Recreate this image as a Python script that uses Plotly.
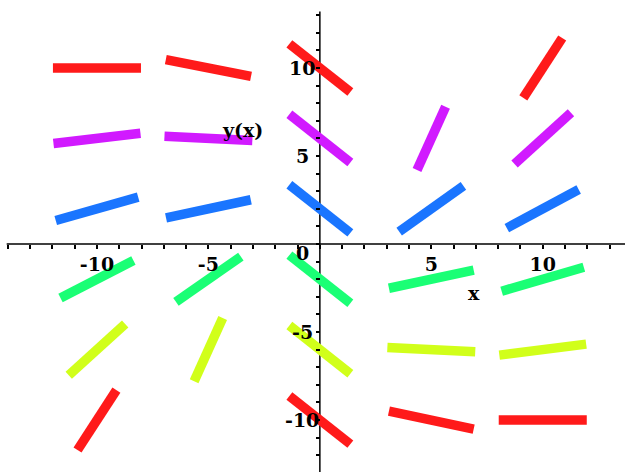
import math
import plotly.graph_objects as go

# ---- data ----
x_grid = [-10, -5, 0, 5, 10]
y_grid = [10, 6, 2, -2, -6, -10]
# slope dy/dx of the direction-field segment at (x_grid[j], y_grid[i]); None = no segment
slopes = [
    [0.0, -0.25, -1.0, None, 1.95],
    [0.15, -0.06, -1.0, 2.8, 1.15],
    [0.36, 0.27, -1.0, 0.9, 0.68],
    [0.65, 0.88, -1.0, 0.27, 0.37],
    [1.15, 2.8, -1.0, -0.06, 0.16],
    [1.95, None, -1.0, -0.27, 0.0],
]
row_colors = ["#ff1a1a", "#d11aff", "#1a75ff", "#1aff75", "#d1ff1a", "#ff1a1a"]
x_tick_values = list(range(-14, 14))
x_tick_labeled = [-10, -5, 5, 10]
y_tick_values = list(range(-12, 14))
y_tick_labeled = [-10, -5, 0, 5, 10]

# ---- view / styling ----
XR = [-14.35, 13.69]
YR = [-12.95, 13.86]
X_AXIS_START = -14.05
Y_AXIS_TOP = 13.2
NORM_X, NORM_Y = 25.0, 24.0   # arrow normalisation extents
HALF = 0.079                  # half-length in normalised units
FONT = dict(family="DejaVu Serif", size=19, color="black", weight="bold")

fig = go.Figure()
for i, yv in enumerate(y_grid):
    xs, ys = [], []
    for j, xv in enumerate(x_grid):
        f = slopes[i][j]
        if f is None:
            continue
        u, v = 1.0 / NORM_X, f / NORM_Y
        n = math.hypot(u, v)
        dx = HALF * NORM_X * u / n
        dy = HALF * NORM_Y * v / n
        xs += [xv - dx, xv + dx, None]
        ys += [yv - dy, yv + dy, None]
    fig.add_trace(go.Scatter(x=xs, y=ys, mode="lines",
                             line=dict(color=row_colors[i], width=9.5),
                             hoverinfo="skip", showlegend=False))

ypos = (0 - YR[0]) / (YR[1] - YR[0])
xpos = (0 - XR[0]) / (XR[1] - XR[0])

fig.update_layout(
    width=625, height=472,
    margin=dict(l=0, r=0, t=0, b=0, autoexpand=False),
    paper_bgcolor="white", plot_bgcolor="white",
    xaxis=dict(range=XR, showgrid=False, zeroline=False, anchor="free", position=ypos,
               automargin=False, showline=False,
               ticks="outside", ticklen=4, tickcolor="black", tickwidth=1.5,
               tickvals=x_tick_values,
               ticktext=[str(v) if v in x_tick_labeled else "" for v in x_tick_values],
               tickfont=FONT, ticklabelstandoff=-1),
    yaxis=dict(range=YR, showgrid=False, zeroline=False, anchor="free", position=xpos,
               automargin=False, showline=False,
               ticks="outside", ticklen=4, tickcolor="black", tickwidth=1.5,
               tickvals=y_tick_values, showticklabels=False),
    shapes=[
        dict(type="line", xref="x", yref="y", x0=X_AXIS_START, x1=XR[1], y0=0, y1=0,
             line=dict(color="black", width=1.5), layer="below"),
        dict(type="line", xref="x", yref="y", x0=0, x1=0, y0=YR[0], y1=Y_AXIS_TOP,
             line=dict(color="black", width=1.5), layer="below"),
    ],
)

annots = []
for v in y_tick_labeled:
    yy = v if v != 0 else -0.5
    annots.append(dict(x=-0.8, y=yy, text=str(v), showarrow=False, xanchor="center",
                       yanchor="middle", font=FONT))
annots.append(dict(x=-3.49, y=6.48, text="y(x)", showarrow=False, font=FONT))
annots.append(dict(x=6.93, y=-2.78, text="x", showarrow=False, font=FONT))
fig.update_layout(annotations=annots)

fig.write_html("out.html", config={"displayModeBar": False},
               post_script="document.body.style.margin='0';")
